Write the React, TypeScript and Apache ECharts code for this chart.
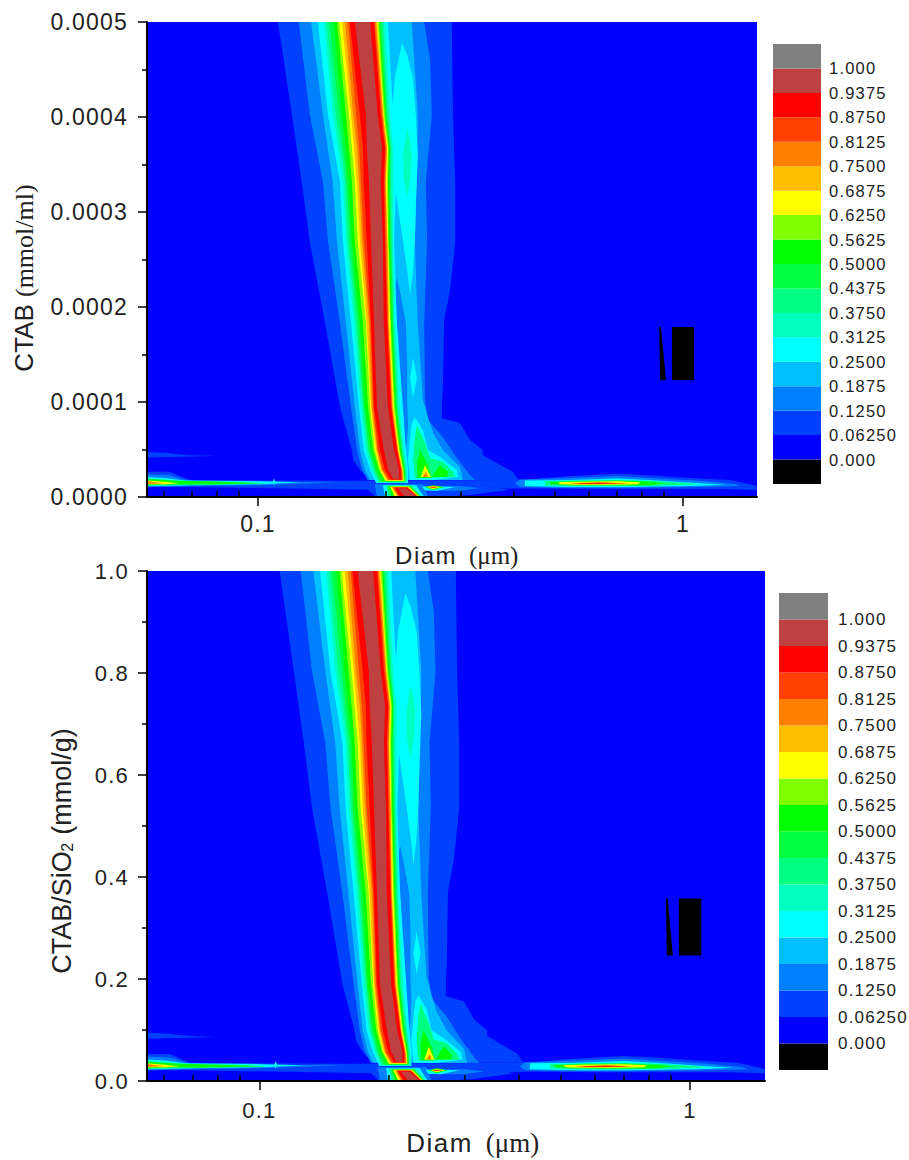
import React, { useEffect, useRef } from "react";
import * as echarts from "echarts";

// Colour bands, lowest first; index = band number
const bandColors = ["#000000","#0000ff","#0040ff","#0080ff","#00bfff","#00ffff","#00ffbf","#00ff80","#00ff40","#00ff00","#80ff00","#ffff00","#ffbf00","#ff8000","#ff4000","#ff0000","#bf4040","#808080"];
const bandLabels = ["0.000","0.06250","0.1250","0.1875","0.2500","0.3125","0.3750","0.4375","0.5000","0.5625","0.6250","0.6875","0.7500","0.8125","0.8750","0.9375","1.000"];

const yTicksDigitsTop = 4;
const yTicksDigitsBottom = 1;
const xMajor = [0.1, 1];
const xMinor = [0.06,0.07,0.08,0.09,0.2,0.3,0.4,0.5,0.6,0.7,0.8,0.9];

// All contour readings: [log10(Diam) x 1000, CTAB/SiO2 x 1000]
// Central ridge: rows of y, one edge per level from 0.25 to 0.9375
const ridgeY = [1000, 804, 735, 663, 537, 366, 189, 99, 57];
const ridgeEndY = [29.5, 30.5, 31.6, 31.6, 32.6, 33.7, 33.7, 34.7, 35.8, 35.8, 36.8, 37.9];
const ridgeLeft = [
  [-859,-845,-838,-831,-821,-814,-809,-802,-795,-788,-784,-772],
  [-835,-824,-817,-809,-802,-793,-786,-781,-776,-769,-760,-746],
  [-821,-812,-805,-800,-793,-786,-779,-774,-767,-762,-753,-744],
  [-807,-800,-795,-791,-786,-779,-772,-767,-762,-758,-751,-739],
  [-800,-793,-788,-784,-779,-772,-765,-760,-755,-751,-744,-734],
  [-781,-774,-769,-765,-760,-753,-746,-744,-739,-736,-734,-727],
  [-762,-758,-753,-751,-748,-741,-736,-734,-732,-729,-727,-720],
  [-751,-746,-741,-739,-734,-729,-725,-722,-720,-718,-713,-704],
  [-736,-732,-727,-725,-720,-715,-713,-711,-708,-706,-701,-694],
  [-722,-718,-715,-711,-706,-701,-699,-696,-694,-692,-687,-682],
];
const ridgeRight = [
  [-694,-701,-706,-710,-713,-715,-718,-720,-722,-725,-727,-736],
  [-682,-689,-694,-696,-699,-701,-704,-705,-706,-708,-711,-718],
  [-678,-682,-687,-688,-689,-692,-694,-696,-697,-699,-701,-708],
  [-675,-682,-687,-689,-692,-694,-696,-699,-700,-701,-704,-711],
  [-680,-682,-685,-687,-689,-692,-694,-695,-696,-699,-701,-706],
  [-673,-678,-680,-682,-685,-687,-689,-692,-693,-694,-696,-704],
  [-659,-666,-671,-673,-675,-678,-680,-682,-684,-685,-687,-694],
  [-652,-657,-659,-661,-664,-666,-668,-670,-671,-672,-673,-680],
  [-647,-649,-652,-654,-655,-657,-659,-660,-661,-662,-664,-668],
  [-647,-649,-652,-653,-654,-655,-657,-658,-659,-661,-664,-668],
];

const outer0625 = [[-953,1000],[-920,804],[-897,663],[-878,537],[-842,366],[-807,189],[-779,99],[-776,78],[-760,57],[-744,42],[-744,36],[-384,36],[-391,40],[-400,53],[-471,88],[-471,99],[-501,120],[-525,156],[-567,166],[-567,204],[-565,225],[-562,373],[-548,436],[-536,537],[-536,663],[-541,804],[-544,1000]];
const outer125 = [[-904,1000],[-878,804],[-847,663],[-835,537],[-807,366],[-781,189],[-767,99],[-755,57],[-741,36],[-489,36],[-501,46],[-532,82],[-565,126],[-600,162],[-607,204],[-609,366],[-602,537],[-605,663],[-591,804],[-595,920],[-609,1000]];
const outer1875 = [[-875,1000],[-847,804],[-824,663],[-814,537],[-793,366],[-772,189],[-760,99],[-748,57],[-736,36],[-518,36],[-525,63],[-565,99],[-588,135],[-600,168],[-612,204],[-624,366],[-631,537],[-626,663],[-624,804],[-638,1000]];
const gapRight = [[-673,461],[-664,425],[-652,366],[-649,288],[-649,204],[-647,152],[-649,120],[-652,99],[-678,141],[-689,415]];
const lobeUpper = [[-661,956],[-678,882],[-685,804],[-680,663],[-673,625],[-659,541],[-649,478],[-642,425],[-635,478],[-631,537],[-628,636],[-624,720],[-628,794],[-635,882],[-649,930]];
const lobeUpperInner = [[-649,777],[-659,720],[-657,667],[-649,632],[-642,667],[-638,720],[-642,751]];
const lobeSpot = [[-635,293],[-642,250],[-635,210],[-626,250]];
const peakB25 = [[-631,168],[-612,141],[-600,99],[-572,84],[-532,57],[-529,42],[-588,36],[-642,36],[-647,78],[-642,126],[-638,156]];
const peakB375 = [[-626,152],[-607,114],[-595,82],[-565,74],[-541,53],[-536,42],[-631,40],[-635,78],[-631,126]];
const peakB50 = [[-619,99],[-600,67],[-591,40],[-624,40],[-626,72]];
const peakB50b = [[-572,67],[-553,53],[-555,42],[-591,42]];
const peakB625 = [[-607,67],[-593,42],[-617,42]];
const peakB75 = [[-605,53],[-600,42],[-612,42]];

const baseline0625 = [[-1261,53],[-1207,53],[-1184,44],[-1160,36],[-995,35],[-807,34],[-384,36],[-266,44],[-155,49],[-78,46],[16,40],[111,36],[158,27],[174,23],[174,15],[87,17],[-78,17],[-195,17],[-384,18],[-501,17],[-595,13],[-1160,21],[-1261,21]];
const under0625 = [[-729,29],[-501,29],[-408,15],[-501,4],[-572,0],[-722,0],[-741,15]];
const strip0625 = [[-1261,95],[-1219,93],[-1160,88],[-1101,87],[-1160,85],[-1219,84],[-1261,83]];
const left125 = [[-1261,48],[-1207,46],[-1179,38],[-1160,34],[-995,32],[-807,31],[-995,25],[-1160,23],[-1261,21]];
const left25 = [[-1261,42],[-1219,40],[-1172,35],[-995,33],[-901,31],[-995,27],[-1160,25],[-1261,23]];
const left375 = [[-1261,39],[-1172,34],[-1054,32],[-972,29],[-1054,27],[-1184,25],[-1261,24]];
const left50 = [[-1261,38],[-1195,34],[-1101,32],[-995,29],[-1101,27],[-1195,27],[-1261,25]];
const left625 = [[-1261,35],[-1219,32],[-1184,29],[-1219,27],[-1261,27]];
const left75 = [[-1261,34],[-1249,32],[-1219,29],[-1254,28],[-1261,28]];
const spike25 = [[-962,40],[-960,32],[-962,23],[-965,32]];
const right125 = [[-395,29],[-384,37],[-266,40],[-155,44],[-78,40],[40,34],[122,27],[134,23],[40,21],[-148,19],[-289,19],[-384,21]];
const right25 = [[-372,35],[-266,36],[-155,39],[-78,36],[40,29],[99,26],[16,23],[-148,21],[-266,21],[-372,23]];
const right375 = [[-325,33],[-242,35],[-155,36],[-78,34],[16,29],[40,27],[-54,24],[-148,23],[-266,23],[-325,25]];
const right50 = [[-313,31],[-266,33],[-155,34],[-78,32],[-42,29],[-78,25],[-148,24],[-266,25],[-313,27]];
const right625 = [[-294,31],[-254,32],[-155,33],[-101,31],[-106,27],[-160,26],[-254,26],[-289,27]];
const right75 = [[-266,29],[-195,31],[-136,29],[-195,27],[-254,27]];
const right875 = [[-249,29],[-195,30],[-125,29],[-195,28],[-242,28]];

const foot125 = [[-725,27],[-612,27],[-600,0],[-720,0]];
const foot25 = [[-706,25],[-628,25],[-609,0],[-701,0]];
const foot375 = [[-699,24],[-638,24],[-614,0],[-692,0]];
const foot50 = [[-694,23],[-642,23],[-617,0],[-685,0]];
const foot625 = [[-689,22],[-645,22],[-619,0],[-678,0]];
const foot75 = [[-685,21],[-647,21],[-621,0],[-671,0]];
const foot875 = [[-680,20],[-649,20],[-624,0],[-666,0]];
const foot9375 = [[-671,18],[-652,18],[-626,0],[-654,0]];
const knot125 = [[-619,23],[-525,23],[-478,19],[-525,13],[-612,13]];
const knot25 = [[-614,22],[-536,21],[-579,13],[-607,14]];
const knot50 = [[-607,21],[-588,25],[-562,21],[-588,15]];
const knot625 = [[-602,21],[-588,23],[-569,21],[-588,17]];
const knot8125 = [[-600,21],[-588,22],[-574,21],[-588,19]];

const blackWedge = [[-56,358],[-52,358],[-40,246],[-54,246]];
const blackBlock = [[-26,358],[26,358],[26,246],[-26,246]];

type Shape = { band: number; pts: number[][] };

const ridgeShapes: Shape[] = ridgeLeft[0].map((_, lvl) => {
  const last = ridgeY.length;
  const left = ridgeY.map((y, r) => [ridgeLeft[r][lvl], y]);
  const end = [[ridgeLeft[last][lvl], ridgeEndY[lvl]], [ridgeRight[last][lvl], ridgeEndY[lvl]]];
  const right = ridgeY.map((y, r) => [ridgeRight[r][lvl], y]).reverse();
  return { band: 5 + lvl, pts: [...left, ...end, ...right] };
});

const shapes: Shape[] = [
  { band: 2, pts: outer0625 }, { band: 2, pts: baseline0625 }, { band: 2, pts: under0625 }, { band: 2, pts: strip0625 },
  { band: 3, pts: outer125 }, { band: 3, pts: left125 }, { band: 3, pts: right125 },
  { band: 4, pts: outer1875 }, { band: 3, pts: gapRight },
  { band: 5, pts: lobeUpper }, { band: 6, pts: lobeUpperInner }, { band: 5, pts: lobeSpot },
  ...ridgeShapes,
  { band: 5, pts: peakB25 }, { band: 7, pts: peakB375 }, { band: 9, pts: peakB50 }, { band: 9, pts: peakB50b },
  { band: 11, pts: peakB625 }, { band: 13, pts: peakB75 },
  { band: 5, pts: left25 }, { band: 7, pts: left375 }, { band: 9, pts: left50 }, { band: 11, pts: left625 }, { band: 13, pts: left75 }, { band: 5, pts: spike25 },
  { band: 5, pts: right25 }, { band: 7, pts: right375 }, { band: 9, pts: right50 }, { band: 11, pts: right625 }, { band: 13, pts: right75 }, { band: 15, pts: right875 },
  { band: 3, pts: foot125 }, { band: 5, pts: foot25 }, { band: 7, pts: foot375 }, { band: 9, pts: foot50 }, { band: 11, pts: foot625 }, { band: 13, pts: foot75 }, { band: 15, pts: foot875 }, { band: 16, pts: foot9375 },
  { band: 3, pts: knot125 }, { band: 5, pts: knot25 }, { band: 9, pts: knot50 }, { band: 11, pts: knot625 }, { band: 14, pts: knot8125 },
  { band: 0, pts: blackWedge }, { band: 0, pts: blackBlock },
];

const toDiam = (m: number) => Math.pow(10, m / 1000);
const ink = "#222222";
const sans = "Liberation Sans";
const serif = "Liberation Serif";

function contourSeries(gridIdx: number, yUnit: number) {
  return {
    type: "custom",
    xAxisIndex: gridIdx * 2,
    yAxisIndex: gridIdx * 2,
    clip: true,
    silent: true,
    encode: { x: 0, y: 1 },
    data: shapes.map((s, i) => [toDiam(s.pts[0][0]), s.pts[0][1] * yUnit, i]),
    renderItem: (_: any, api: any) => {
      const s = shapes[api.value(2)];
      return {
        type: "polygon",
        shape: { points: s.pts.map((p) => api.coord([toDiam(p[0]), p[1] * yUnit])) },
        style: { fill: bandColors[s.band], stroke: null },
      };
    },
  };
}

function xAxes(gridIndex: number, fontSize: number, margin: number) {
  const base = { type: "log", logBase: 10, gridIndex, min: toDiam(-1261), max: toDiam(174), splitLine: { show: false }, z: 5 };
  return [
    {
      ...base,
      axisLine: { show: true, onZero: false, lineStyle: { color: "#000", width: 2 } },
      axisTick: { show: true, length: 9, customValues: xMajor, lineStyle: { color: "#000", width: 1.5 } },
      axisLabel: { show: true, customValues: xMajor, margin, fontFamily: sans, fontSize, color: ink, formatter: (v: number) => String(Math.round(v * 10) / 10) },
    },
    {
      ...base,
      axisLine: { show: false },
      axisTick: { show: true, length: 6, customValues: xMinor, lineStyle: { color: "#000", width: 1.5 } },
      axisLabel: { show: false },
    },
  ];
}

function yAxes(gridIndex: number, max: number, interval: number, digits: number, fontSize: number, margin: number) {
  const base = { type: "value", gridIndex, min: 0, max, interval, splitLine: { show: false }, z: 5 };
  return [
    {
      ...base,
      axisLine: { show: true, onZero: false, lineStyle: { color: "#000", width: 2 } },
      axisTick: { show: true, length: 9, lineStyle: { color: "#000", width: 1.5 } },
      minorTick: { show: true, splitNumber: 2, length: 5, lineStyle: { color: "#000", width: 1.5 } },
      axisLabel: { margin, fontFamily: sans, fontSize, color: ink, formatter: (v: number) => v.toFixed(digits) },
    },
    { ...base, axisLine: { show: false }, axisTick: { show: false }, axisLabel: { show: false } },
  ];
}

function barSeries(axisIdx: number) {
  return {
    type: "custom",
    xAxisIndex: axisIdx,
    yAxisIndex: axisIdx,
    silent: true,
    encode: { x: 0, y: 1 },
    data: bandColors.map((_, i) => [0, i]),
    renderItem: (_: any, api: any) => {
      const i = api.value(1);
      const a = api.coord([0, i]);
      const b = api.coord([1, i + 1]);
      return { type: "rect", shape: { x: a[0], y: b[1], width: b[0] - a[0], height: a[1] - b[1] }, style: { fill: bandColors[i] } };
    },
  };
}

function barAxes(gridIndex: number, fontSize: number, margin: number) {
  return {
    x: { type: "value", gridIndex, min: 0, max: 1, show: false },
    y: {
      type: "value", gridIndex, min: 0, max: 18, interval: 1, position: "right",
      splitLine: { show: false }, axisLine: { show: false }, axisTick: { show: false },
      axisLabel: { margin, fontFamily: sans, fontSize, color: ink, formatter: (v: number) => bandLabels[v - 1] ?? "" },
    },
  };
}

export default function App() {
  const ref = useRef<HTMLDivElement>(null);
  useEffect(() => {
    document.body.style.margin = "0";
    const chart = echarts.init(ref.current!, null, { renderer: "svg" });
    const barTop = barAxes(2, 16.5, 8);
    const barBottom = barAxes(3, 17, 10);
    chart.setOption({
      animation: false,
      backgroundColor: "#ffffff",
      grid: [
        { left: 147, top: 22, width: 610, height: 475, show: true, backgroundColor: "#0000ff", borderWidth: 0 },
        { left: 147, top: 571, width: 618, height: 510, show: true, backgroundColor: "#0000ff", borderWidth: 0 },
        { left: 773, top: 44, width: 48, height: 440 },
        { left: 779, top: 593, width: 49, height: 477 },
      ],
      xAxis: [...xAxes(0, 23, 15), ...xAxes(1, 22, 18), barTop.x, barBottom.x],
      yAxis: [...yAxes(0, 0.0005, 0.0001, yTicksDigitsTop, 23, 19), ...yAxes(1, 1, 0.2, yTicksDigitsBottom, 22, 18), barTop.y, barBottom.y],
      series: [contourSeries(0, 0.0005 / 1000), contourSeries(1, 1 / 1000), barSeries(4), barSeries(5)],
      graphic: [
        {
          type: "text", x: 24, y: 278, rotation: Math.PI / 2,
          style: {
            text: "{a|CTAB }{b|(mmol/ml)}", align: "center", verticalAlign: "middle",
            rich: { a: { fontFamily: sans, fontSize: 26, fill: ink }, b: { fontFamily: serif, fontSize: 26, fill: ink } },
          },
        },
        {
          type: "text", x: 459, y: 555,
          style: {
            text: "{a|Diam  }{b|(\u03bcm)}", align: "center", verticalAlign: "middle",
            rich: { a: { fontFamily: sans, fontSize: 24, fill: ink }, b: { fontFamily: serif, fontSize: 25, fill: ink } },
          },
        },
        {
          type: "text", x: 62, y: 851, rotation: Math.PI / 2,
          style: {
            text: "{a|CTAB/SiO}{s|2}{a| (mmol/g)}", align: "center", verticalAlign: "middle",
            rich: { a: { fontFamily: sans, fontSize: 27, fill: ink }, s: { fontFamily: sans, fontSize: 16, fill: ink, verticalAlign: "bottom" } },
          },
        },
        {
          type: "text", x: 475, y: 1143,
          style: {
            text: "{a|Diam  }{b|(\u03bcm)}", align: "center", verticalAlign: "middle",
            rich: { a: { fontFamily: sans, fontSize: 26, fill: ink }, b: { fontFamily: serif, fontSize: 27, fill: ink } },
          },
        },
      ],
    });
    ref.current!.querySelectorAll("text").forEach((t) => {
      const s = t.textContent || "";
      if (/^[\d.]+$/.test(s)) (t as SVGTextElement).style.letterSpacing = "1.2px";
      else if (s.startsWith("Diam")) (t as SVGTextElement).style.letterSpacing = "1.5px";
    });
    return () => chart.dispose();
  }, []);
  return <div ref={ref} style={{ position: "absolute", left: 0, top: 0, width: 909, height: 1160 }} />;
}
